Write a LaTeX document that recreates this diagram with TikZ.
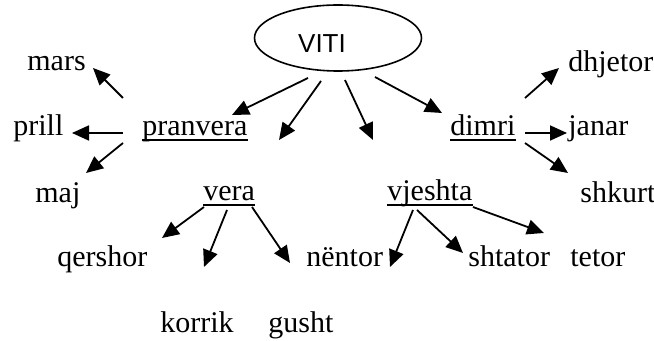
\documentclass[tikz,border=0pt]{standalone}
\usepackage{fontspec}
\setmainfont{Liberation Serif}
\setsansfont{Liberation Sans}
\usetikzlibrary{shapes.geometric, arrows.meta}

\tikzset{
  month/.style={inner sep=0pt, anchor=base west, font=\fontsize{15}{17}\selectfont},
  arr/.style={-{Triangle[length=8.5pt,width=7.5pt]}, line width=0.9pt}
}

\begin{document}
\begin{tikzpicture}[x=0.5pt,y=-0.5pt]
  \useasboundingbox (0,0) rectangle (654,341);
  % root
  \node[ellipse, draw, line width=0.8pt, minimum width=83.5pt, minimum height=33pt,
        label={[xshift=-8pt,yshift=-3pt,font=\sffamily\fontsize{13}{15}\selectfont]center:VITI}]
        (viti) at (338,38) {};
  % seasons
  \node[month] (pranvera) at (142,136) {pranvera};
  \node[month] (vera) at (203,201) {vera};
  \node[month] (vjeshta) at (387,201) {vjeshta};
  \node[month] (dimri) at (450,136) {dimri};
  \foreach \s in {pranvera,vera,vjeshta,dimri}
    \draw[line width=0.7pt] ([yshift=-2pt]\s.base west) -- ([yshift=-2pt]\s.base east);
  % months
  \node[month] (mars) at (27,71) {mars};
  \node[month] (prill) at (13,136) {prill};
  \node[month] (maj) at (35,203) {maj};
  \node[month] (qershor) at (57,267) {qershor};
  \node[month] (korrik) at (160,333) {korrik};
  \node[month] (gusht) at (268,333) {gusht};
  \node[month] (shtator) at (468,267) {shtator};
  \node[month] (tetor) at (570,267) {tetor};
  \node[month] (nentor) at (306,267) {nëntor};
  \node[month] (dhjetor) at (568,72) {dhjetor};
  \node[month] (janar) at (568,136) {janar};
  \node[month] (shkurt) at (580,203) {shkurt};
  % arrow ends
  \foreach \n/\x/\y in {viti-1/308/78, viti-2/321/81, viti-3/345/80, viti-4/375/77,
      pranvera-in/232/115, vera-in/279/140, vjeshta-in/373/140, dimri-in/442/113,
      pranvera-1/123/98, pranvera-2/123/133, pranvera-3/123/143,
      mars-in/93/68, prill-in/72/133, maj-in/86/173,
      dimri-1/525/98, dimri-2/525/133, dimri-3/525/143,
      dhjetor-in/559/68, janar-in/567/133, shkurt-in/568/173,
      vera-1/204/207, vera-2/227/210, vera-3/252/207,
      qershor-in/162/238, korrik-in/204/267, gusht-in/290/263,
      vjeshta-1/413/210, vjeshta-2/417/210, vjeshta-3/473/207,
      nentor-in/390/267, shtator-in/463/253, tetor-in/544/233}
    \coordinate (\n) at (\x,\y);
  \path[arr]
    (viti-1) edge (pranvera-in)
    (viti-2) edge (vera-in)
    (viti-3) edge (vjeshta-in)
    (viti-4) edge (dimri-in)
    (pranvera-1) edge (mars-in)
    (pranvera-2) edge (prill-in)
    (pranvera-3) edge (maj-in)
    (dimri-1) edge (dhjetor-in)
    (dimri-2) edge (janar-in)
    (dimri-3) edge (shkurt-in)
    (vera-1) edge (qershor-in)
    (vera-2) edge (korrik-in)
    (vera-3) edge (gusht-in)
    (vjeshta-1) edge (nentor-in)
    (vjeshta-2) edge (shtator-in)
    (vjeshta-3) edge (tetor-in);
\end{tikzpicture}
\end{document}
